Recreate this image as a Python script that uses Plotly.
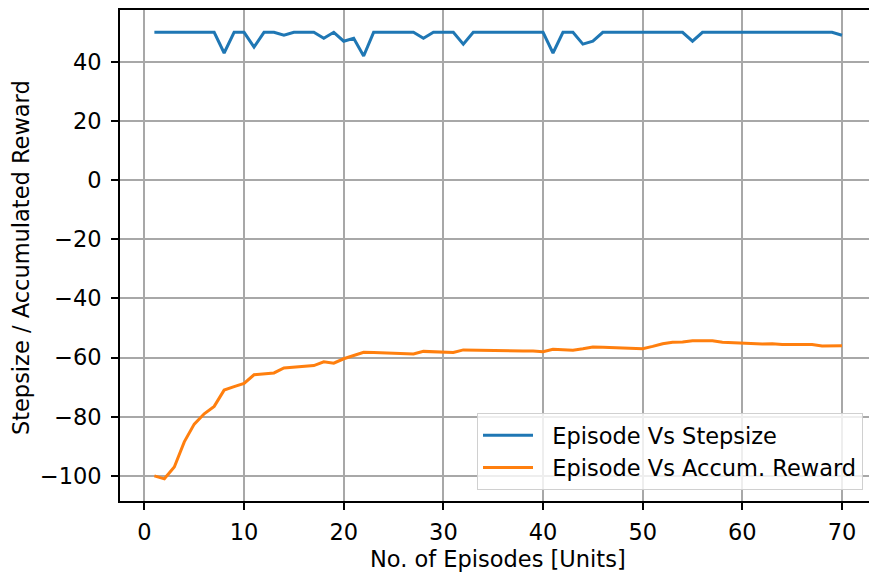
import plotly.graph_objects as go

episodes = list(range(1, 71))

stepsize = [50, 50, 50, 50, 50, 50, 50, 43, 50, 50,
            45, 50, 50, 49, 50, 50, 50, 48, 50, 47,
            48, 42, 50, 50, 50, 50, 50, 48, 50, 50,
            50, 46, 50, 50, 50, 50, 50, 50, 50, 50,
            43, 50, 50, 46, 47, 50, 50, 50, 50, 50,
            50, 50, 50, 50, 47, 50, 50, 50, 50, 50,
            50, 50, 50, 50, 50, 50, 50, 50, 50, 49]

reward = [-100, -101, -97, -88.5, -82.5, -79, -76.5, -71, -69.8, -68.7,
          -65.8, -65.4, -65.2, -63.5, -63.2, -63.0, -62.7, -61.4, -61.9, -60.4,
          -59.3, -58.2, -58.3, -58.4, -58.5, -58.6, -58.8, -57.9, -58.0, -58.0,
          -58.3, -57.4, -57.5, -57.5, -57.6, -57.6, -57.7, -57.8, -57.8, -58.0,
          -57.2, -57.4, -57.5, -57.0, -56.4, -56.5, -56.6, -56.7, -56.8, -57.0,
          -56.2, -55.3, -54.8, -54.7, -54.3, -54.2, -54.3, -54.8, -55.0, -55.0,
          -55.4, -55.4, -55.3, -55.6, -55.6, -55.6, -55.6, -56.1, -56.0, -56.0]

x_ticks = [0, 10, 20, 30, 40, 50, 60, 70]
y_ticks = [-100, -80, -60, -40, -20, 0, 20, 40]
y_tick_text = ["\u2212100", "\u221280", "\u221260", "\u221240", "\u221220", "0", "20", "40"]

FONT = "DejaVu Sans"
FS = 22.5
PAD = "\u00a0\u00a0"

fig = go.Figure()
fig.add_trace(go.Scatter(x=episodes, y=stepsize, mode="lines",
                         name=PAD + "Episode Vs Stepsize",
                         line=dict(color="#1f77b4", width=3)))
fig.add_trace(go.Scatter(x=episodes, y=reward, mode="lines",
                         name=PAD + "Episode Vs Accum. Reward",
                         line=dict(color="#ff7f0e", width=3)))

fig.update_layout(
    width=869, height=573,
    margin=dict(l=120, r=0, t=10, b=72),
    plot_bgcolor="white", paper_bgcolor="white",
    font=dict(family=FONT, size=FS, color="black"),
    showlegend=True,
    legend=dict(x=0.992, y=0.022, xanchor="right", yanchor="bottom",
                bgcolor="rgba(255,255,255,0.8)", bordercolor="#d0d0d0",
                borderwidth=1, font=dict(family=FONT, size=FS),
                itemwidth=50, tracegroupgap=2),
    annotations=[
        dict(text="No. of Episodes [Units]", xref="paper", yref="paper",
             x=0.5047, y=-0.118, xanchor="center", yanchor="middle",
             showarrow=False, font=dict(family=FONT, size=FS)),
        dict(text="Stepsize / Accumulated Reward", xref="paper", yref="paper",
             x=-0.132, y=0.495, xanchor="center", yanchor="middle",
             textangle=-90, showarrow=False, font=dict(family=FONT, size=FS)),
    ],
)

fig.update_xaxes(range=[-2.45, 72.71], tickvals=x_ticks,
                 showgrid=True, gridcolor="#a8a8a8", gridwidth=1.6,
                 zeroline=False, showline=True, linecolor="black", linewidth=1.6,
                 mirror=True, ticks="outside", ticklen=7, tickwidth=1.6,
                 tickcolor="black", ticklabelstandoff=3,
                 tickfont=dict(family=FONT, size=FS))
fig.update_yaxes(range=[-108.5, 57.55], tickvals=y_ticks, ticktext=y_tick_text,
                 showgrid=True, gridcolor="#a8a8a8", gridwidth=1.6,
                 zeroline=False, showline=True, linecolor="black", linewidth=1.6,
                 mirror=False, ticks="outside", ticklen=7, tickwidth=1.6,
                 tickcolor="black", ticklabelstandoff=5,
                 tickfont=dict(family=FONT, size=FS))

fig.write_html("out.html")
